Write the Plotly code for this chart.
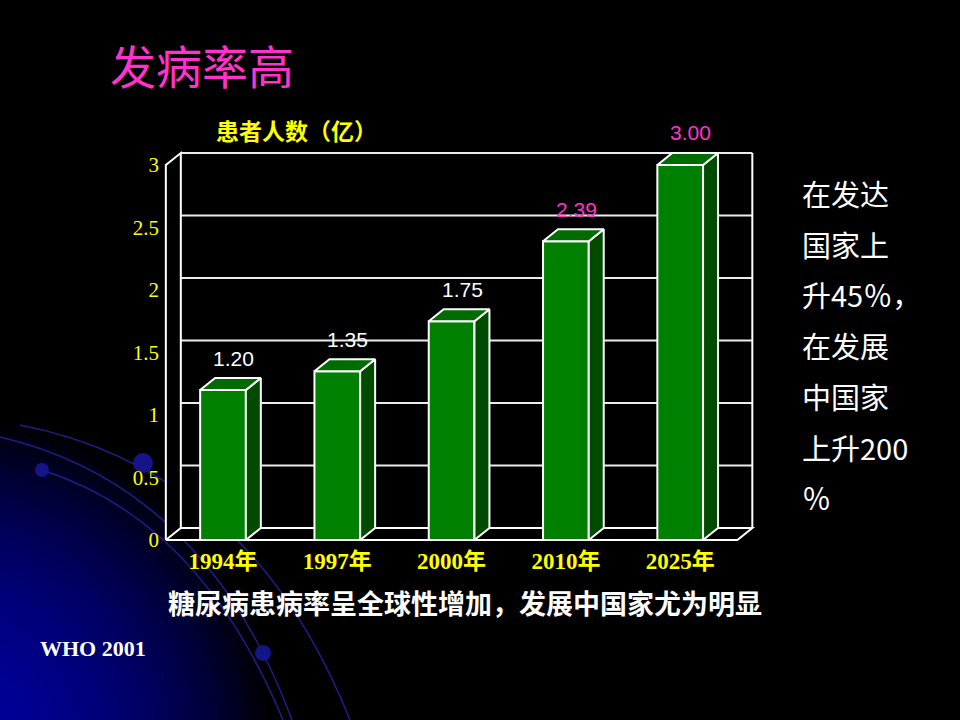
# 3D-style bar chart: diabetes patients (100 million)
import plotly.graph_objects as go

# data
years = ["1994年", "1997年", "2000年", "2010年", "2025年"]
patients = [1.20, 1.35, 1.75, 2.39, 3.00]
label_colors = ["white", "white", "white", "#ff33cc", "#ff33cc"]
y_ticks = [0, 0.5, 1, 1.5, 2, 2.5, 3]
y_tick_text = ["0", "0.5", "1", "1.5", "2", "2.5", "3"]
side_note = ["在发达", "国家上", "升45％，", "在发展", "中国家", "上升200", "％"]

W, H = 960, 720
CJK = "Noto Sans CJK SC"
SERIF = "Liberation Serif, Noto Sans CJK SC"

# fake depth of the 3D box, in data units
DX = 0.131
DY = 0.096
HALF = 0.2
X0, X1 = -0.5, len(years) - 0.5
YMAX = 3


def px(x, y):
    # pixel position -> paper coords (margins are 0)
    return x / W, 1 - y / H


shapes = []

# blue radial glow in the lower left corner
cx, cy = -60, 745
for r in range(16, 330, 8):
    ax, ay = px(cx - r, cy + r)
    bx, by = px(cx + r, cy - r)
    shapes.append(dict(type="circle", xref="paper", yref="paper",
                       x0=ax, y0=ay, x1=bx, y1=by, layer="below",
                       fillcolor="rgba(0,0,215,0.042)", line=dict(width=0)))

# decorative arcs and dots
arcs = [[(20, 425), (250, 470), (350, 720)],
        [(0, 437), (205, 485), (292, 720)],
        [(42, 470), (200, 520), (283, 720)]]
for a in arcs:
    p = [px(*q) for q in a]
    path = "M %f,%f Q %f,%f %f,%f" % (p[0][0], p[0][1], p[1][0], p[1][1], p[2][0], p[2][1])
    shapes.append(dict(type="path", xref="paper", yref="paper", path=path,
                       layer="below", line=dict(color="rgba(35,35,160,0.85)", width=1.5)))
for (dx_, dy_, rr) in [(42, 470, 7), (143, 463, 10), (263, 653, 8)]:
    ax, ay = px(dx_ - rr, dy_ + rr)
    bx, by = px(dx_ + rr, dy_ - rr)
    shapes.append(dict(type="circle", xref="paper", yref="paper",
                       x0=ax, y0=ay, x1=bx, y1=by, layer="below",
                       fillcolor="#15158a", line=dict(width=0)))


def poly(pts, fill=None, color="white", width=2):
    path = "M " + " L ".join("%f,%f" % p for p in pts)
    if fill:
        path += " Z"
    return dict(type="path", xref="x", yref="y", path=path, layer="below",
                fillcolor=fill if fill else "rgba(0,0,0,0)",
                line=dict(color=color, width=width if color else 0))


# black box (back wall, floor, left wall)
box = [(X0, 0), (X0, YMAX), (X0 + DX, YMAX + DY), (X1 + DX, YMAX + DY),
       (X1 + DX, DY), (X1, 0)]
shapes.append(poly(box, fill="black", color="black", width=1))

# back wall gridlines
for v in y_ticks[1:]:
    shapes.append(poly([(X0 + DX, v + DY), (X1 + DX, v + DY)], color="#ececec"))
# box edges
shapes.append(poly([(X0, 0), (X1, 0), (X1 + DX, DY), (X0 + DX, DY), (X0, 0)]))
shapes.append(poly([(X0, 0), (X0, YMAX), (X0 + DX, YMAX + DY), (X0 + DX, DY)]))
shapes.append(poly([(X1 + DX, DY), (X1 + DX, YMAX + DY)]))

idx = list(range(len(years)))

# front faces
bars = go.Bar(x=idx, y=patients, width=2 * HALF,
              marker=dict(color="#008000", line=dict(color="white", width=2)),
              hoverinfo="skip")

# side and top faces
sx, sy, tx, ty = [], [], [], []
for i, v in zip(idx, patients):
    r = i + HALF
    l = i - HALF
    sx += [r, r + DX, r + DX, r, r, None]
    sy += [0, DY, v + DY, v, 0, None]
    tx += [l, l + DX, r + DX, r, l, None]
    ty += [v, v + DY, v + DY, v, v, None]
sides = go.Scatter(x=sx, y=sy, mode="lines", fill="toself", fillcolor="#004b00",
                   line=dict(color="white", width=2), hoverinfo="skip")
tops = go.Scatter(x=tx, y=ty, mode="lines", fill="toself", fillcolor="#006c00",
                  line=dict(color="white", width=2), hoverinfo="skip")

fig = go.Figure(data=[bars, sides, tops])

annotations = []
# value labels
for i, v, c in zip(idx, patients, label_colors):
    annotations.append(dict(x=i + DX * 0.7, y=v, xref="x", yref="y", text="%.2f" % v,
                            showarrow=False, yshift=32, yanchor="middle",
                            font=dict(family="Liberation Sans, Arial", size=21, color=c)))


def note(x, y, text, size, color, family=CJK, weight="normal", anchor="center"):
    ax, ay = px(x, y)
    annotations.append(dict(x=ax, y=ay, xref="paper", yref="paper", text=text,
                            showarrow=False, xanchor=anchor, yanchor="middle",
                            font=dict(family=family, size=size, color=color, weight=weight)))


note(202, 64, "发病率高", 46, "#ff33cc")
note(296, 130, "患者人数（亿）", 23, "#ffff00", weight="bold")
note(465, 602, "糖尿病患病率呈全球性增加，发展中国家尤为明显", 27, "white", weight="bold")
note(38, 648, "WHO 2001", 22, "white", family="Liberation Serif", weight="bold", anchor="left")
for k, line in enumerate(side_note):
    note(800, 193 + 50.7 * k, line, 29, "white", anchor="left")

x_lo, x_hi = (160 - 223) / 114.3, (760 - 223) / 114.3
fig.update_layout(
    width=W, height=H,
    margin=dict(l=0, r=0, t=0, b=0),
    paper_bgcolor="black",
    plot_bgcolor="rgba(0,0,0,0)",
    showlegend=False,
    shapes=shapes,
    annotations=annotations,
    xaxis=dict(domain=[160 / W, 760 / W], range=[x_lo, x_hi],
               tickvals=idx, ticktext=years, showgrid=False, zeroline=False,
               showline=False, ticks="", automargin=False,
               tickfont=dict(family=SERIF, size=23, color="#ffff00", weight="bold")),
    yaxis=dict(domain=[1 - 545 / H, 1 - 145 / H], range=[-0.04, 3.16],
               tickvals=y_ticks, ticktext=y_tick_text, showgrid=False,
               zeroline=False, showline=False, ticks="", automargin=False,
               tickfont=dict(family=SERIF, size=21, color="#ffff00")),
)

fig.write_html("out.html", config={"displayModeBar": False},
               post_script="document.body.style.margin='0';")
